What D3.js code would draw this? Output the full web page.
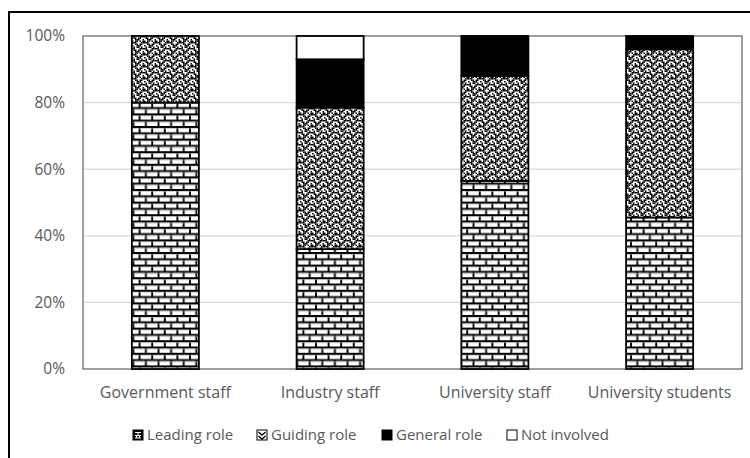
<!DOCTYPE html>
<html><head><meta charset="utf-8">
<script src="https://cdn.jsdelivr.net/npm/d3@7"></script>
<style>
html,body{margin:0;padding:0;background:#fff;}
svg{display:block;}
text{font-family:"Open Sans",sans-serif;fill:#595959;}
</style></head>
<body>
<svg id="chart" width="750" height="458"></svg>
<script>
const categories = ["Government staff","Industry staff","University staff","University students"];
const leadingRole = [80, 36, 56.5, 45.5];
const guidingRole = [20, 42.5, 31.5, 50.5];
const generalRole = [0, 14.5, 12, 4];
const notInvolved = [0, 7, 0, 0];
const seriesNames = ["Leading role","Guiding role","General role","Not involved"];
const yTicks = [0,20,40,60,80,100];

const svg = d3.select("#chart");
const defs = svg.append("defs");

// brick pattern
const brick = defs.append("pattern").attr("id","brick").attr("patternUnits","userSpaceOnUse")
  .attr("width",12.6).attr("height",12.6);
brick.append("rect").attr("width",12.6).attr("height",12.6).attr("fill","#fff");
brick.append("path").attr("d","M0,0.9H12.6M0,7.2H12.6M1,0V6.3M7.3,6.3V12.6")
  .attr("stroke","#000").attr("stroke-width",1.9).attr("fill","none");
brick.append("path").attr("d","M0,2.5H12.6M0,8.8H12.6").attr("stroke","#aaa").attr("stroke-width",0.6);

// wave (weave) pattern from a bitmap
const waveBits = [
  "11000111",
  "01101100",
  "00111001",
  "10110101",
  "11100011",
  "00110110",
  "10011100",
  "01011010"
];
const px = 1.5;
const wave = defs.append("pattern").attr("id","wave").attr("patternUnits","userSpaceOnUse")
  .attr("width",8*px).attr("height",8*px);
wave.append("rect").attr("width",8*px).attr("height",8*px).attr("fill","#fff");
waveBits.forEach((row,r)=>{
  row.split("").forEach((b,c)=>{
    if(b==="1") wave.append("rect").attr("x",c*px).attr("y",r*px).attr("width",px).attr("height",px).attr("fill","#000");
  });
});

const fills = ["url(#brick)","url(#wave)","#000","#fff"];

// outer frame (cropped)
svg.append("path").attr("d","M9,458V12H750").attr("fill","none").attr("stroke","#000").attr("stroke-width",2);

const x = d3.scaleBand().domain(categories).range([83,742]).paddingInner(0.593).paddingOuter(0.2965);
const y = d3.scaleLinear().domain([0,100]).range([369,36]);

// gridlines
svg.append("g").selectAll("line").data(yTicks.filter(d=>d>0 && d<100)).join("line")
  .attr("x1",83).attr("x2",742).attr("y1",d=>y(d)).attr("y2",d=>y(d))
  .attr("stroke","#d9d9d9").attr("stroke-width",1.2);

// plot border
svg.append("rect").attr("x",83).attr("y",y(100)).attr("width",742-83).attr("height",y(0)-y(100))
  .attr("fill","none").attr("stroke","#404040").attr("stroke-width",1);

// y axis
const yAxis = d3.axisLeft(y).tickValues(yTicks).tickFormat(d=>d+"%").tickSize(0).tickPadding(18);
const ya = svg.append("g").attr("transform","translate(83,0)").call(yAxis);
ya.select(".domain").remove();
ya.selectAll("text").style("font-size","15.5px").attr("fill","#595959").attr("font-family","'Open Sans',sans-serif");

// x axis
const xAxis = d3.axisBottom(x).tickSize(0).tickPadding(18);
const xa = svg.append("g").attr("transform","translate(0,369)").call(xAxis);
xa.select(".domain").remove();
xa.selectAll("text").style("font-size","16px").attr("fill","#595959").attr("font-family","'Open Sans',sans-serif");

// stacked bars
const table = categories.map((c,i)=>({cat:c, "Leading role":leadingRole[i], "Guiding role":guidingRole[i], "General role":generalRole[i], "Not involved":notInvolved[i]}));
const stack = d3.stack().keys(seriesNames)(table);
const gBars = svg.append("g");
stack.forEach((s,si)=>{
  gBars.selectAll(null).data(s.filter(d=>d[1]-d[0]>0)).join("rect")
    .attr("x",d=>x(d.data.cat)).attr("width",x.bandwidth())
    .attr("y",d=>y(d[1])).attr("height",d=>y(d[0])-y(d[1]))
    .attr("fill",fills[si]).attr("stroke","#000").attr("stroke-width",1.8);
});

// legend
const legendX = [133, 257, 382, 507];
const lg = svg.append("g");
seriesNames.forEach((n,i)=>{
  const g = lg.append("g").attr("transform",`translate(${legendX[i]},435)`);
  g.append("rect").attr("x",0).attr("y",-5).attr("width",10).attr("height",10)
    .attr("fill",i===0?"#000":(i===1?"#fff":fills[i])).attr("stroke","#000").attr("stroke-width",1);
  if(i===0){
    g.append("path").attr("d","M2,-2.5H8M2,0.5H8M2,3H8M5,-2.5V0.5M3.5,0.5V3M6.5,0.5V3").attr("stroke","#fff").attr("stroke-width",1);
  }
  if(i===1){
    g.append("path").attr("d","M1.5,-3 L5,0 L8.5,-3 M1.5,1 L5,4 L8.5,1").attr("stroke","#000").attr("stroke-width",1.4).attr("fill","none");
  }
  g.append("text").attr("x",14).attr("y",0).attr("dy","0.35em").style("font-size","15px").text(n);
});
</script>
</body></html>
